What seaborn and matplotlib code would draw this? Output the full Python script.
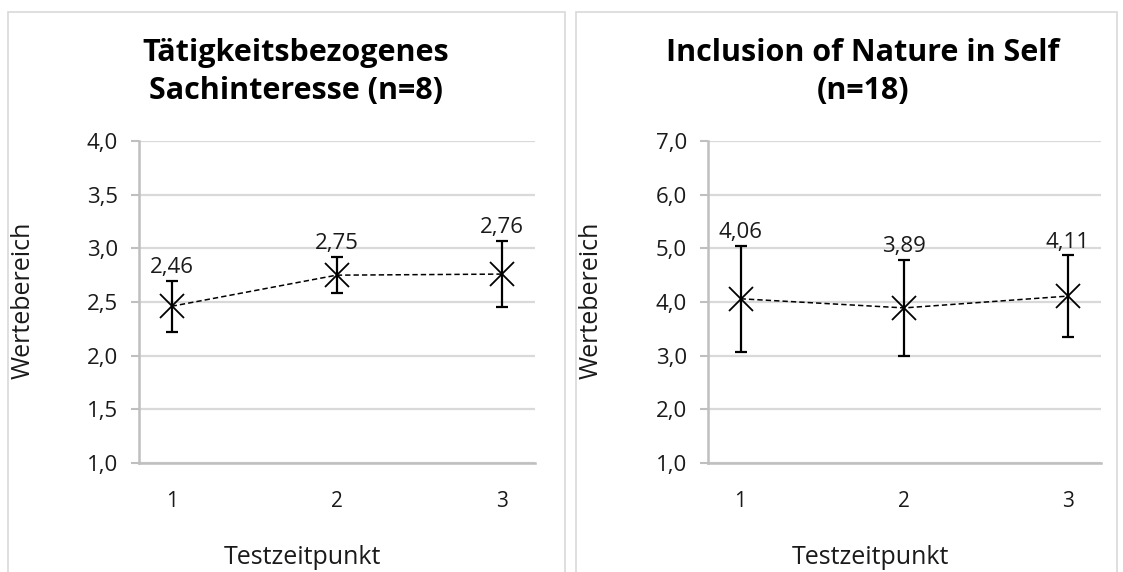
import matplotlib.pyplot as plt
import numpy as np
import pandas as pd
import seaborn as sns
from matplotlib.patches import Rectangle

# data
zeitpunkte = [1, 2, 3]
sach_mean = [2.46, 2.75, 2.76]
sach_sd = [0.24, 0.17, 0.31]
ins_mean = [4.06, 3.89, 4.11]
ins_sd = [0.99, 0.90, 0.76]

titles = ["Tätigkeitsbezogenes\nSachinteresse (n=8)",
          "Inclusion of Nature in Self\n(n=18)"]
ylims = [(1.0, 4.0), (1.0, 7.0)]
ysteps = [0.5, 1.0]

sns.set_theme(style="white")
plt.rcParams['font.family'] = ['Open Sans', 'DejaVu Sans']

W, H = 1123, 572
fig = plt.figure(figsize=(W / 100, H / 100), dpi=100)
fig.patch.set_facecolor("white")

# panel frames (pixel coords -> figure fraction)
for x0, x1 in [(8, 565), (576, 1117)]:
    fig.add_artist(Rectangle((x0 / W, -0.05), (x1 - x0) / W, 1.05 - 12 / H,
                             transform=fig.transFigure, fill=False,
                             edgecolor="#d9d9d9", lw=1.2))

panels = [
    dict(mean=sach_mean, sd=sach_sd, ax=(138.6, 534.5), title_x=296),
    dict(mean=ins_mean, sd=ins_sd, ax=(707.8, 1100.7), title_x=863),
]

for i, p in enumerate(panels):
    ax_l, ax_r = p["ax"]
    ax = fig.add_axes([ax_l / W, 1 - 463 / H, (ax_r - ax_l) / W, (463 - 141) / H])
    df = pd.DataFrame({"Testzeitpunkt": zeitpunkte, "Wert": p["mean"]})

    ax.errorbar(df["Testzeitpunkt"], df["Wert"], yerr=p["sd"], fmt="none",
                ecolor="black", elinewidth=1.6, capsize=4.5, capthick=1.6, zorder=3)
    sns.lineplot(data=df, x="Testzeitpunkt", y="Wert", ax=ax, color="black",
                 linestyle=(0, (3.5, 2)), lw=1.1, marker="x", markersize=17,
                 markeredgewidth=1.3, markeredgecolor="black", zorder=4)

    for x, m, s in zip(zeitpunkte, p["mean"], p["sd"]):
        ax.annotate(f"{m:.2f}".replace(".", ","), (x, m + s), xytext=(0, 2),
                    textcoords="offset points", ha="center", va="bottom",
                    fontsize=16, color="#1a1a1a")

    lo, hi = ylims[i]
    ax.set_ylim(lo, hi)
    ax.set_xlim(0.8, 3.2)
    yt = np.arange(lo, hi + 1e-9, ysteps[i])
    ax.set_yticks(yt)
    ax.set_yticklabels([f"{v:.1f}".replace(".", ",") for v in yt])
    ax.set_xticks(zeitpunkte)
    ax.set_xticklabels([str(z) for z in zeitpunkte])

    ax.grid(axis="y", color="#d9d9d9", lw=1.6)
    ax.set_axisbelow(True)
    for side in ["top", "right"]:
        ax.spines[side].set_visible(False)
    for side in ["left", "bottom"]:
        ax.spines[side].set_color("#bfbfbf")
        ax.spines[side].set_linewidth(1.8)

    ax.tick_params(axis="y", length=6, width=1.5, color="#bfbfbf", pad=9,
                   labelsize=16, labelcolor="#1a1a1a", left=True)
    ax.tick_params(axis="x", length=0, pad=20, labelsize=15, labelcolor="#1a1a1a")

    ax.set_xlabel("Testzeitpunkt", fontsize=18, color="#1a1a1a")
    ax.set_ylabel("Wertebereich", fontsize=18, color="#1a1a1a")
    ax.xaxis.set_label_coords(0.415, -0.255)
    ax.yaxis.set_label_coords(-0.26 if i == 0 else -0.265, 0.506)

    fig.text(p["title_x"] / W, 1 - 72 / H, titles[i], ha="center", va="center",
             fontsize=22, fontweight="bold", color="black", linespacing=1.35)

plt.savefig("out.png", dpi=100)
